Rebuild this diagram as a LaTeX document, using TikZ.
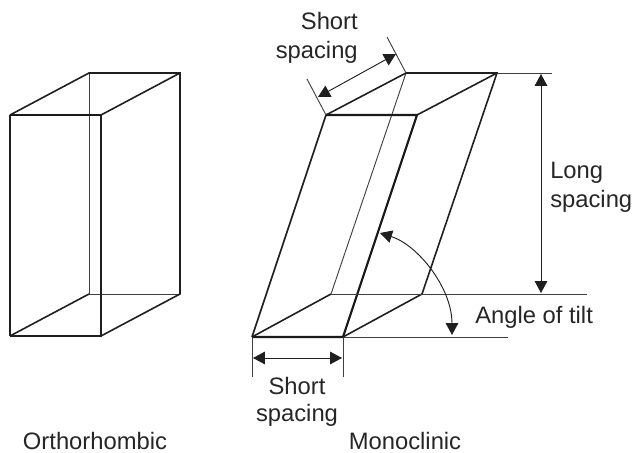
\documentclass[tikz,border=0pt]{standalone}
\usepackage{fontspec}
\setmainfont{Liberation Sans}
\usetikzlibrary{arrows.meta}

\begin{document}
\begin{tikzpicture}[
  x=0.02646cm, y=-0.02646cm,
  edge/.style={line width=1.2pt, draw=black!88},
  heavy/.style={line width=1.6pt, draw=black!90},
  hidden/.style={line width=0.7pt, draw=black!75},
  guide/.style={line width=0.7pt, draw=black!75},
  dim/.style={{Triangle[length=9pt,width=9.5pt]}-{Triangle[length=9pt,width=9.5pt]}, line width=0.7pt, draw=black!88, fill=none},
  lbl/.style={font=\fontsize{17.9pt}{21.7pt}\selectfont, text=black!85, align=center, inner sep=0pt}
]
\useasboundingbox (0,0) rectangle (633,453);

% orthorhombic cell
\coordinate (oftl) at (10,115);
\coordinate (oftr) at (101,115);
\coordinate (ofbl) at (10,336);
\coordinate (ofbr) at (101,336);
\coordinate (obtl) at (89,73);
\coordinate (obtr) at (180,73);
\coordinate (obbl) at (89,294);
\coordinate (obbr) at (180,294);

\draw[hidden] (obtl) -- (obbl) -- (obbr);
\draw[edge] (obbl) -- (ofbl);
\draw[edge] (ofbl) -- (oftl);
\draw[edge] (oftr) -- (ofbr) -- (ofbl);
\draw[edge] (oftl) -- (obtl) -- (obtr) -- (obbr) -- (ofbr);
\draw[edge] (oftr) -- (obtr);
\draw[heavy] (oftl) -- (oftr);

% monoclinic cell
\coordinate (mftl) at (326,115);
\coordinate (mftr) at (417,115);
\coordinate (mfbl) at (252,337);
\coordinate (mfbr) at (343,337);
\coordinate (mbtl) at (406,73);
\coordinate (mbtr) at (497,73);
\coordinate (mbbl) at (331,294);
\coordinate (mbbr) at (422,294);

\draw[hidden] (mbtl) -- (mbbl);
\draw[edge] (mbbl) -- (mfbl);
\draw[edge] (mfbl) -- (mftl) -- (mbtl) -- (mbtr) -- (mbbr) -- (mfbr);
\draw[edge] (mftr) -- (mbtr);
\draw[heavy] (mftl) -- (mftr) -- (mfbr) -- (mfbl);

% guide lines
\coordinate (topend) at (552,73);
\coordinate (midend) at (587,294);
\coordinate (lowend) at (508,337);
\coordinate (gsa) at (307,79);
\coordinate (gsb) at (387,37);
\coordinate (gla) at (252,377);
\coordinate (glb) at (343,377);
\draw[guide] (mbtr) -- (topend);
\draw[guide] (mbbl) -- (midend);
\draw[guide] (mfbr) -- (lowend);
\draw[guide] (mftl) -- (gsa);
\draw[guide] (mbtl) -- (gsb);
\draw[guide] (mfbl) -- (gla);
\draw[guide] (mfbr) -- (glb);

% dimension arrows
\coordinate (dsa) at (318,97);
\coordinate (dsb) at (396,54);
\coordinate (dla) at (253,358);
\coordinate (dlb) at (342,358);
\coordinate (dva) at (541,74);
\coordinate (dvb) at (541,293);
\coordinate (tilta) at (380,233);
\coordinate (tiltb) at (452,335);
\draw[dim] (dsa) -- (dsb);
\draw[dim] (dla) -- (dlb);
\draw[dim] (dva) -- (dvb);
\draw[dim] (tilta) .. controls (418,245) and (452,288) .. (tiltb);

% labels
\node[lbl, align=right, anchor=north east] (shorttop) at (358,12) {Short\\spacing};
\node[lbl] (shortlow) at (297,386) {Short};
\node[lbl] (spacinglow) at (297,415) {spacing};
\node[lbl, align=left, anchor=west] (longsp) at (550,187) {Long\\spacing};
\node[lbl, anchor=west] (tilt) at (475,317) {Angle of tilt};
\node[lbl] (ortho) at (95,441) {Orthorhombic};
\node[lbl] (mono) at (405,441) {Monoclinic};
\end{tikzpicture}
\end{document}
